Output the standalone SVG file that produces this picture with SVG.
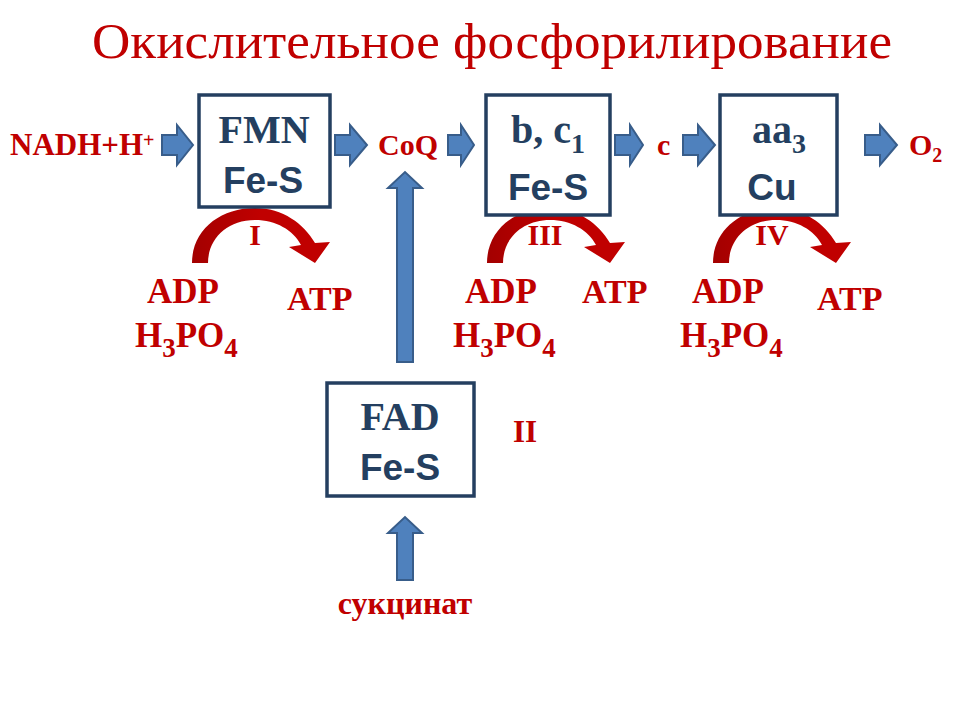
<svg xmlns="http://www.w3.org/2000/svg" xmlns:xlink="http://www.w3.org/1999/xlink" width="960" height="720" viewBox="0 0 960 720">
<style>
.t{font-family:"Liberation Serif","Times New Roman",serif;font-weight:bold;fill:#C00000}
.bx{fill:#fff;stroke:#243F60;stroke-width:3.5}
.bs{font-family:"Liberation Serif","Times New Roman",serif;font-weight:bold;fill:#243F60;font-size:40px;text-anchor:middle}
.ba{font-family:"Liberation Sans",Arial,sans-serif;font-weight:bold;fill:#243F60;font-size:37px;text-anchor:middle}
.ar{fill:#4F81BD;stroke:#385D8A;stroke-width:2;stroke-linejoin:miter}
.cv{fill:url(#rg)}
.m{text-anchor:middle}
</style>
<defs>
<linearGradient id="rg" x1="0" y1="0" x2="1" y2="0">
<stop offset="0" stop-color="#A30000"/>
<stop offset="0.5" stop-color="#C00000"/>
<stop offset="1" stop-color="#C00000"/>
</linearGradient>
<path id="curve" class="cv" d="M192,263 C192,230 220,208 255,208 C283,208 304,224 315,243 L330,242 L315,263 L289,247 L301,245 C293,230 276,220 255,220 C227,220 208,239 208,263 Z"/>
</defs>
<rect width="960" height="720" fill="#fff"/>
<text x="492" y="58" text-anchor="middle" textLength="800" lengthAdjust="spacingAndGlyphs" style="font-family:'Liberation Serif','Times New Roman',serif;font-size:51px;fill:#C00000">Окислительное фосфорилирование</text>

<g id="connectors">
<path class="ar" d="M162,135 H177 V125 L193,145 L177,165 V155 H162 Z"/>
<path class="ar" d="M335,135 H350 V125 L367,145 L350,165 V155 H335 Z"/>
<path class="ar" d="M448,135 H461 V125 L474,145 L461,165 V155 H448 Z"/>
<path class="ar" d="M615,135 H630 V125 L643,145 L630,165 V155 H615 Z"/>
<path class="ar" d="M683,135 H698 V125 L715,145 L698,165 V155 H683 Z"/>
<path class="ar" d="M865,135 H880 V125 L897,145 L880,165 V155 H865 Z"/>
<path class="ar" d="M397,362 V188 H388 L405,172 L422,188 H413 V362 Z"/>
<path class="ar" d="M397,580 V533 H388 L405,517 L422,533 H413 V580 Z"/>
<use xlink:href="#curve"/>
<use xlink:href="#curve" transform="translate(295,0)"/>
<use xlink:href="#curve" transform="translate(521,0)"/>
</g>

<g id="nadh"><text class="t" x="10" y="155" font-size="31">NADH+H<tspan font-size="20" dy="-8">+</tspan></text></g>
<g id="coq"><text class="t" x="378" y="155" font-size="30">CoQ</text></g>
<g id="cytc"><text class="t" x="657" y="155" font-size="30">c</text></g>
<g id="o2"><text class="t" x="909" y="155" font-size="30">O<tspan font-size="20" dy="7">2</tspan></text></g>

<g id="complex1">
<rect class="bx" x="199" y="95" width="131" height="112"/>
<text class="bs" x="264" y="143">FMN</text>
<text class="ba" x="263" y="193">Fe-S</text>
</g>
<g id="complex3">
<rect class="bx" x="486" y="95" width="124" height="120"/>
<text class="bs" x="548" y="143">b, c<tspan font-size="28" dy="10">1</tspan></text>
<text class="ba" x="548" y="200">Fe-S</text>
</g>
<g id="complex4">
<rect class="bx" x="720" y="95" width="117" height="120"/>
<text class="bs" x="779" y="143">aa<tspan font-size="28" dy="10">3</tspan></text>
<text class="ba" x="772" y="200">Cu</text>
</g>
<g id="complex2">
<rect class="bx" x="327" y="383" width="147" height="113"/>
<text class="bs" x="400" y="430">FAD</text>
<text class="ba" x="400" y="480">Fe-S</text>
</g>

<g id="labels">
<text class="t m" x="255" y="245" font-size="30">I</text>
<text class="t m" x="545" y="245" font-size="30">III</text>
<text class="t m" x="772" y="245" font-size="30">IV</text>
<text class="t" x="513" y="442" font-size="31">II</text>
</g>

<g id="phos1">
<text class="t" x="147" y="303" font-size="35">ADP</text>
<text class="t" x="135" y="347" font-size="35">H<tspan font-size="27" dy="10">3</tspan><tspan dy="-10">PO</tspan><tspan font-size="27" dy="10">4</tspan></text>
<text class="t" x="287" y="310" font-size="34">ATP</text>
</g>
<g id="phos3">
<text class="t" x="465" y="303" font-size="35">ADP</text>
<text class="t" x="453" y="347" font-size="35">H<tspan font-size="27" dy="10">3</tspan><tspan dy="-10">PO</tspan><tspan font-size="27" dy="10">4</tspan></text>
<text class="t" x="582" y="303" font-size="34">ATP</text>
</g>
<g id="phos4">
<text class="t" x="692" y="303" font-size="35">ADP</text>
<text class="t" x="680" y="347" font-size="35">H<tspan font-size="27" dy="10">3</tspan><tspan dy="-10">PO</tspan><tspan font-size="27" dy="10">4</tspan></text>
<text class="t" x="817" y="310" font-size="34">ATP</text>
</g>
<g id="succinate"><text class="t m" x="405" y="614" font-size="32">сукцинат</text></g>
</svg>
